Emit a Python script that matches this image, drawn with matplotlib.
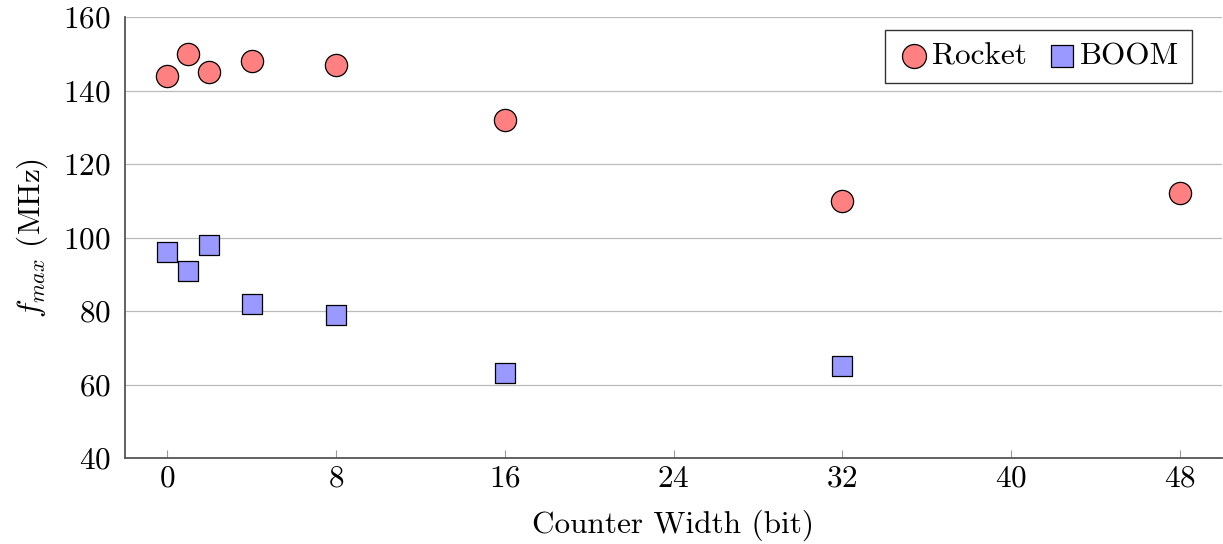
import matplotlib
matplotlib.use('Agg')
import matplotlib.pyplot as plt

# Max frequency versus counter width for the two cores
rocket_width = [0, 1, 2, 4, 8, 16, 32, 48]
rocket_fmax = [144, 150, 145, 148, 147, 132, 110, 112]
boom_width = [0, 1, 2, 4, 8, 16, 32]
boom_fmax = [96, 91, 98, 82, 79, 63, 65]

x_ticks = [0, 8, 16, 24, 32, 40, 48]
y_ticks = [40, 60, 80, 100, 120, 140, 160]

plt.rcParams['font.family'] = ['cmr10', 'DejaVu Serif']
plt.rcParams['mathtext.fontset'] = 'cm'
plt.rcParams['axes.unicode_minus'] = False
plt.rcParams['axes.formatter.use_mathtext'] = True

fs = 22.5

fig = plt.figure(figsize=(12.23, 5.44), dpi=100)
ax = fig.add_axes([125 / 1223, 1 - 458 / 544, (1222 - 125) / 1223, (458 - 17) / 544])

ax.scatter(rocket_width, rocket_fmax, s=16 ** 2, marker='o', color='#ff8080',
           edgecolor='black', linewidth=0.9, label='Rocket', zorder=3)
ax.scatter(boom_width, boom_fmax, s=15 ** 2, marker='s', color='#9999ff',
           edgecolor='black', linewidth=0.9, label='BOOM', zorder=3)

ax.set_xlim(-2, 50)
ax.set_ylim(40, 160)
ax.set_xticks(x_ticks)
ax.set_yticks(y_ticks)

for side in ('top', 'right'):
    ax.spines[side].set_visible(False)
for side in ('left', 'bottom'):
    ax.spines[side].set_color('#555555')
    ax.spines[side].set_linewidth(1.3)

ax.tick_params(axis='x', direction='in', length=6, color='#999999', labelsize=fs, pad=5)
ax.tick_params(axis='y', direction='in', length=0, labelsize=fs, pad=10)
ax.grid(axis='y', color='#bbbbbb', linewidth=0.9)
ax.set_axisbelow(True)

ax.set_xlabel('Counter Width (bit)', fontsize=fs, labelpad=12)
ax.set_ylabel(r'$f_{max}$ (MHz)', fontsize=fs, labelpad=10)

leg = ax.legend(loc='upper right', ncol=2, fontsize=fs, frameon=True, fancybox=False,
                edgecolor='black', handletextpad=0.1, columnspacing=0.6,
                handlelength=1.0, borderpad=0.4, borderaxespad=0,
                markerscale=1.08, bbox_to_anchor=(0.9727, 0.97))
leg.get_frame().set_linewidth(1.0)

plt.savefig('out.png', dpi=100, facecolor='white')
plt.close()
